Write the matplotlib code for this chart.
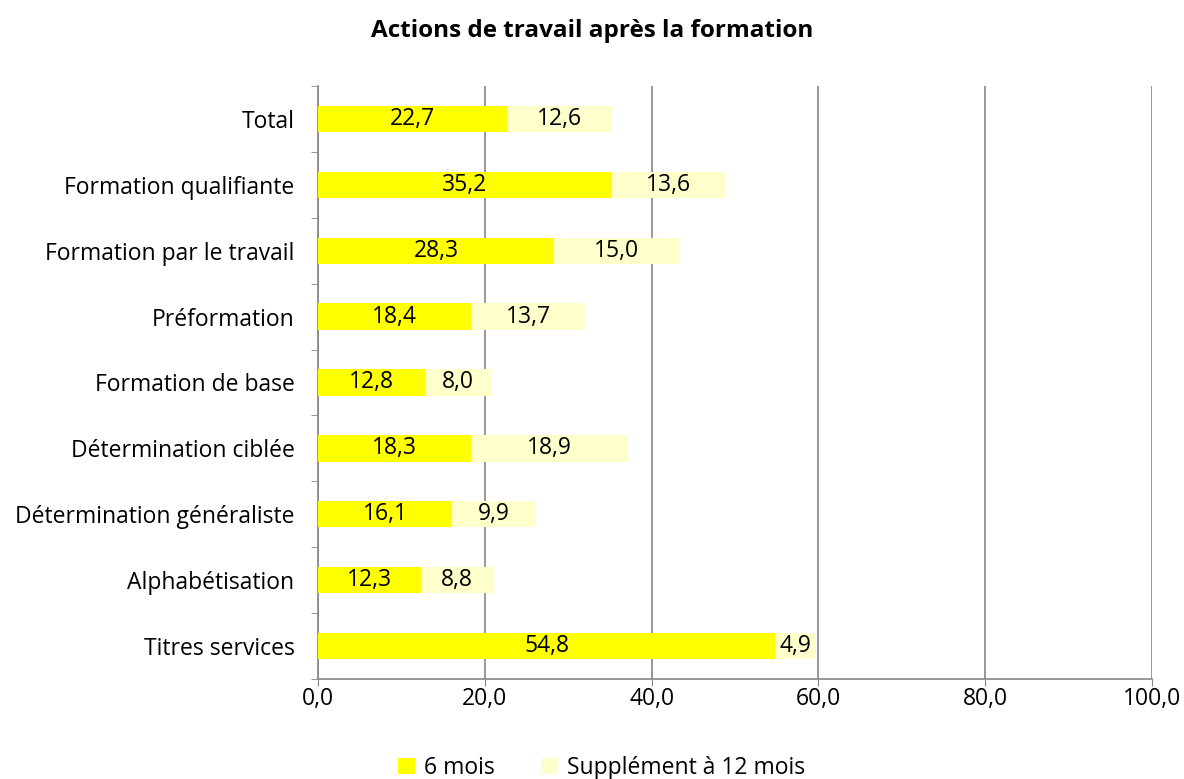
import numpy as np
import matplotlib.pyplot as plt

plt.rcParams['font.family'] = ['Open Sans', 'DejaVu Sans']

categories = ['Total', 'Formation qualifiante', 'Formation par le travail', 'Préformation',
              'Formation de base', 'Détermination ciblée', 'Détermination généraliste',
              'Alphabétisation', 'Titres services']
six_mois = [22.7, 35.2, 28.3, 18.4, 12.8, 18.3, 16.1, 12.3, 54.8]
supp_12 = [12.6, 13.6, 15.0, 13.7, 8.0, 18.9, 9.9, 8.8, 4.9]

fig = plt.figure(figsize=(11.84, 7.79), dpi=100)
ax = fig.add_axes([0.2686, 0.1284, 0.7044, 0.7612])

y = np.arange(len(categories))[::-1]
h = 0.4
b1 = ax.barh(y, six_mois, height=h, color='#FFFF00', label='6 mois', zorder=3)
b2 = ax.barh(y, supp_12, left=six_mois, height=h, color='#FFFFCC', label='Supplément à 12 mois', zorder=3)

for bars, vals in ((b1, six_mois), (b2, supp_12)):
    for bar, v in zip(bars, vals):
        ax.text(bar.get_x() + bar.get_width() / 2, bar.get_y() + bar.get_height() / 2,
                f'{v:.1f}'.replace('.', ','), ha='center', va='center', fontsize=16.5, zorder=4)

ax.set_xlim(0, 100)
ax.set_ylim(-0.5, len(categories) - 0.5)
ax.set_xticks(np.arange(0, 101, 20))
ax.set_xticklabels([f'{t:.1f}'.replace('.', ',') for t in np.arange(0, 101, 20)], fontsize=16.5)
ax.set_yticks(y)
ax.set_yticklabels(categories, fontsize=16.5)
ax.set_yticks(np.arange(-0.5, len(categories), 1), minor=True)
ax.tick_params(axis='y', which='major', length=0, pad=17)
ax.tick_params(axis='y', which='minor', length=5, color='#868686')
ax.tick_params(axis='x', length=5, color='#868686', pad=1)
ax.xaxis.grid(True, color='#868686', linewidth=1.2, zorder=0)

for s in ['top', 'right']:
    ax.spines[s].set_visible(False)
for s in ['left', 'bottom']:
    ax.spines[s].set_color('#868686')
    ax.spines[s].set_linewidth(1.2)

fig.suptitle('Actions de travail après la formation', fontsize=17.5, fontweight='bold', y=0.975)
ax.legend(loc='upper center', bbox_to_anchor=(0.34, -0.095), ncol=2, frameon=False,
          fontsize=16.5, handlelength=0.75, handleheight=0.75, columnspacing=2.0, handletextpad=0.4)

fig.savefig('out.png', dpi=100)
